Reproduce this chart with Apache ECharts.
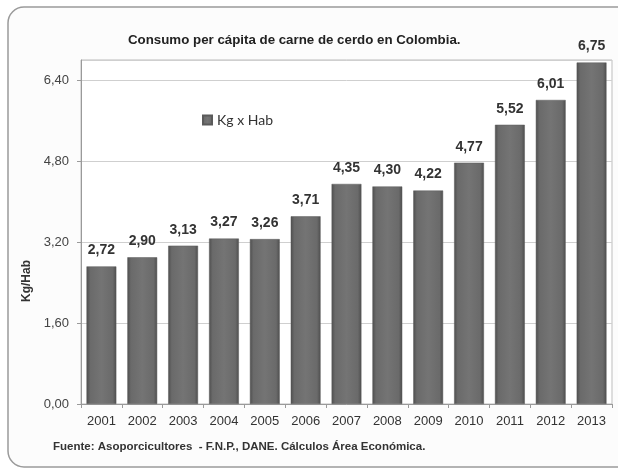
<!DOCTYPE html>
<html>
<head>
<meta charset="utf-8">
<script src="https://cdn.jsdelivr.net/npm/echarts@6/dist/echarts.min.js"></script>
<style>
  html, body { margin: 0; padding: 0; background: #ffffff; }
  #chart { width: 618px; height: 469px; }
</style>
</head>
<body>
<div id="chart"></div>
<script>
var years = ["2001", "2002", "2003", "2004", "2005", "2006", "2007", "2008", "2009", "2010", "2011", "2012", "2013"];
var kgHab = [2.72, 2.90, 3.13, 3.27, 3.26, 3.71, 4.35, 4.30, 4.22, 4.77, 5.52, 6.01, 6.75];
var seriesName = "Kg x Hab";
var titleText = "Consumo per cápita de carne de cerdo en Colombia.";
var sourceText = "Fuente: Asoporcicultores  - F.N.P., DANE. Cálculos Área Económica.";
var yName = "Kg/Hab";

function comma(v) {
  return v.toFixed(2).replace(".", ",");
}

var chart = echarts.init(document.getElementById("chart"));
chart.setOption({
  animation: false,
  backgroundColor: "#ffffff",
  graphic: [
    {
      type: "rect",
      z: -10,
      shape: { x: 8, y: 7, width: 640, height: 460, r: 16 },
      style: { fill: "#fcfcfc", stroke: "#9a9a9a", lineWidth: 1.5 }
    },
    {
      type: "text",
      left: 53, top: 441,
      style: { text: sourceText, font: "bold 11.5px 'Liberation Sans'", fill: "#333333" }
    },
    {
      // axis title, placed a little below the middle as in the original
      type: "text",
      x: 27, y: 281,
      rotation: Math.PI / 2,
      style: { text: yName, font: "bold 12px 'Liberation Sans'", fill: "#333333", align: "center", verticalAlign: "middle" }
    }
  ],
  title: {
    text: titleText,
    left: 123, top: 29,
    textStyle: { fontFamily: "Liberation Sans", fontWeight: "bold", fontSize: 13.3, color: "#222222" }
  },
  legend: {
    data: [seriesName],
    left: 197, top: 108,
    icon: "rect",
    itemWidth: 9, itemHeight: 9, itemGap: 4,
    textStyle: { fontFamily: "Lato", fontSize: 14, color: "#333333" }
  },
  grid: { left: 81, right: 6, top: 60, bottom: 65, show: true, borderColor: "#bdbdbd", borderWidth: 1, backgroundColor: "#ffffff" },
  xAxis: {
    type: "category",
    data: years,
    axisLine: { lineStyle: { color: "#9a9a9a" } },
    axisTick: { show: true, length: 4, lineStyle: { color: "#9a9a9a" } },
    axisLabel: { fontFamily: "Liberation Sans", fontSize: 13, color: "#333333", margin: 11 }
  },
  yAxis: {
    type: "value",
    min: 0, max: 6.8, interval: 1.6,
    axisLine: { show: true, lineStyle: { color: "#9a9a9a" } },
    axisTick: { show: true, length: 4, lineStyle: { color: "#9a9a9a" } },
    axisLabel: {
      showMaxLabel: false,
      fontFamily: "Liberation Sans", fontSize: 13, color: "#444444", margin: 12,
      formatter: function (v) { return comma(v); }
    },
    splitLine: { lineStyle: { color: "#cfcfcf" } }
  },
  series: [{
    name: seriesName,
    type: "bar",
    data: kgHab,
    barCategoryGap: "27%",
    itemStyle: {
      color: new echarts.graphic.LinearGradient(0, 0, 1, 0, [
        { offset: 0, color: "#4e4e4e" },
        { offset: 0.12, color: "#6a6a6a" },
        { offset: 0.5, color: "#747474" },
        { offset: 0.88, color: "#6a6a6a" },
        { offset: 1, color: "#4e4e4e" }
      ]),
      borderColor: "#5a5a5a",
      borderWidth: 0.5
    },
    label: {
      show: true,
      position: "top",
      distance: 9,
      fontFamily: "Liberation Sans", fontWeight: "bold", fontSize: 14, color: "#333333",
      formatter: function (p) { return comma(p.value); }
    }
  }]
});
</script>
</body>
</html>
